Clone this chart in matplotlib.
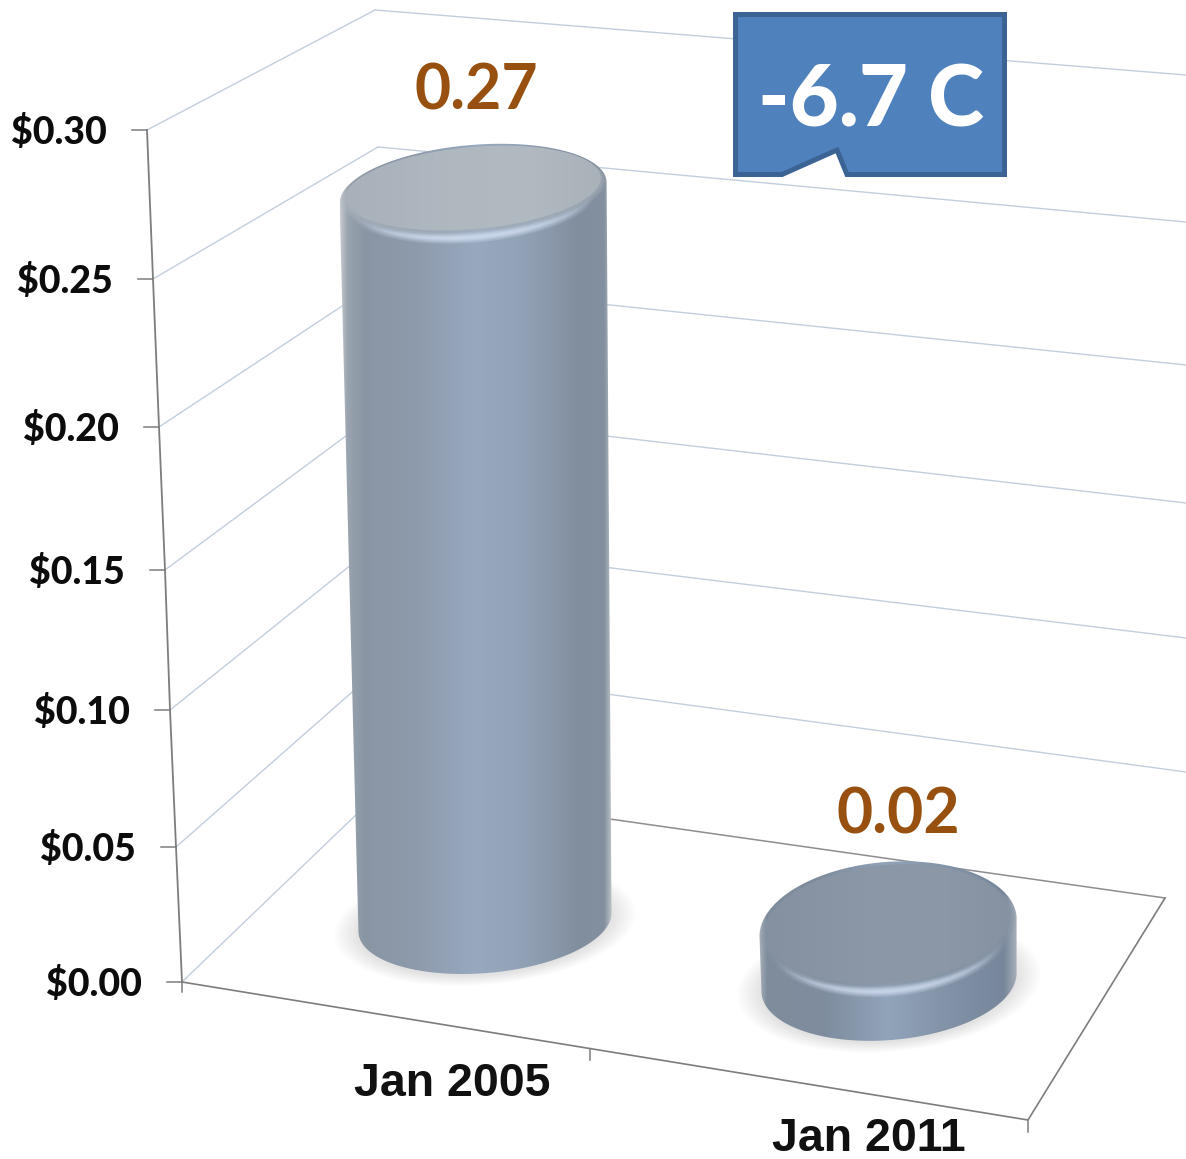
import numpy as np
import matplotlib
matplotlib.use("Agg")
import matplotlib.pyplot as plt
from matplotlib.collections import LineCollection
from matplotlib.colors import LinearSegmentedColormap, to_rgb
from matplotlib.patches import PathPatch, Polygon
from matplotlib.path import Path

W, H = 1186, 1159

# data
categories = ["Jan 2005", "Jan 2011"]
prices = [0.27, 0.02]
price_labels = ["0.27", "0.02"]
axis_values = [0.00, 0.05, 0.10, 0.15, 0.20, 0.25, 0.30]
axis_labels = ["$0.00", "$0.05", "$0.10", "$0.15", "$0.20", "$0.25", "$0.30"]
callout = "-6.7 C"

# projection of the fake 3d box, in pixels per axis value
AXIS_Y = [982, 847, 710, 570, 427, 279, 130]
AXIS_X = [182, 176, 170, 165, 159, 153, 147]
CORNER_X = [385, 384, 382, 381, 380, 378, 375]
CORNER_Y = [787, 664, 540, 410, 281, 147, 10]
RIGHT_Y = [901, 772, 638, 503, 365, 222, 75]
PX_PER_DOLLAR = 2700
LEAN_PER_DOLLAR = -44

GRID = "#c3cedc"
AXIS = "#7d7d7d"
BROWN = "#97500f"

# base centre, base radii, top radii, body colours, top colours
BARS = [
    {"base": (485, 922), "r0": (127, 51), "r1": (134, 48), "surf": (128, 41), "surf_dy": -5,
     "body": [(0, "#c6cad0"), (0.025, "#9aa4af"), (0.09, "#8a95a4"), (0.28, "#8e9bac"),
              (0.5, "#98a9bf"), (0.68, "#91a1b5"), (0.88, "#818e9e"), (0.97, "#84909f"),
              (1, "#c2c7cd")],
     "top": [(0, "#a8b0ba"), (0.4, "#afb7bf"), (0.7, "#b2bac1"), (1, "#a9b1b9")]},
    {"base": (889, 982), "r0": (128, 58), "r1": (129, 66), "surf": (123, 59), "surf_dy": -4,
     "body": [(0, "#a9b1bb"), (0.03, "#7f8c9c"), (0.25, "#7e8c9e"), (0.5, "#92a4ba"),
              (0.7, "#8495a9"), (0.95, "#77869a"), (1, "#a6aeb8")],
     "top": [(0, "#8591a1"), (0.4, "#8b97a6"), (0.7, "#8c98a7"), (1, "#8692a2")]},
]
LABEL_POS = [(476, 91), (898, 815)]
CATEGORY_POS = [(452, 1084), (869, 1139)]
TILT = np.radians(-5)


def ellipse_points(cx, cy, rx, ry, t):
    x = rx * np.cos(t) * np.cos(TILT) - ry * np.sin(t) * np.sin(TILT)
    y = rx * np.cos(t) * np.sin(TILT) + ry * np.sin(t) * np.cos(TILT)
    return np.column_stack([cx + x, cy + y])


def fill_gradient(ax, points, colours, zorder):
    path = Path(np.vstack([points, points[0]]), closed=True)
    patch = PathPatch(path, facecolor="none", edgecolor="none", transform=ax.transData)
    ax.add_patch(patch)
    cmap = LinearSegmentedColormap.from_list("g", colours)
    x0, x1 = points[:, 0].min(), points[:, 0].max()
    y0, y1 = points[:, 1].min(), points[:, 1].max()
    im = ax.imshow(np.linspace(0, 1, 256)[None, :], cmap=cmap, extent=(x0, x1, y1, y0),
                   aspect="auto", zorder=zorder, interpolation="bilinear")
    im.set_clip_path(patch)


def draw_shadow(ax, cx, cy, rx, ry):
    t = np.linspace(0, 2 * np.pi, 120)
    for grow in np.linspace(24, 0, 10):
        pts = ellipse_points(cx, cy + 2, rx + grow, ry + grow * 0.4, t)
        ax.add_patch(Polygon(pts, closed=True, facecolor="#a5a5a5", edgecolor="none",
                             alpha=0.03, zorder=2))


def draw_rim(ax, cx, cy, rx, ry, colour, peak):
    # front edge of the top, brightest in the middle
    t = np.linspace(np.radians(10), np.radians(170), 90)
    pts = ellipse_points(cx, cy, rx, ry, t)
    segs = np.stack([pts[:-1], pts[1:]], axis=1)
    fade = np.sin((t[:-1] - t[0]) / (t[-1] - t[0]) * np.pi) ** 2
    for width, a in [(11, 0.14), (7, 0.22), (3, 0.35)]:
        rgba = [(*to_rgb(colour), a * peak * f) for f in fade]
        ax.add_collection(LineCollection(segs, colors=rgba, linewidths=width * 0.72,
                                         capstyle="round", zorder=5))


plt.rcParams["font.family"] = ["Lato", "DejaVu Sans"]

fig = plt.figure(figsize=(W / 100, H / 100), dpi=100)
ax = fig.add_axes([0, 0, 1, 1])

# walls
for i in range(len(axis_values)):
    if i > 0:
        ax.plot([AXIS_X[i], CORNER_X[i]], [AXIS_Y[i], CORNER_Y[i]], color=GRID, lw=1.0, zorder=1)
        ax.plot([CORNER_X[i], W], [CORNER_Y[i], RIGHT_Y[i]], color=GRID, lw=1.0, zorder=1)
    ax.plot([AXIS_X[i] - 15, AXIS_X[i]], [AXIS_Y[i], AXIS_Y[i]], color=AXIS, lw=1.1, zorder=1)
    ax.text(AXIS_X[i] - 40, AXIS_Y[i] + 2, axis_labels[i], ha="right", va="center",
            fontsize=27, fontweight="black", color="#0c0c0c")

# floor
ax.plot([AXIS_X[0], CORNER_X[0]], [AXIS_Y[0], CORNER_Y[0]], color=GRID, lw=1.0, zorder=1)
floor_x = [CORNER_X[0], 1165, 1028, AXIS_X[0]]
floor_y = [CORNER_Y[0], 898, 1120, AXIS_Y[0]]
ax.plot(floor_x[:2], floor_y[:2], color="#8d8d92", lw=1.1, zorder=1)
ax.plot(floor_x[1:], floor_y[1:], color=AXIS, lw=1.2, zorder=1)
ax.plot(AXIS_X, AXIS_Y, color=AXIS, lw=1.3, zorder=1)
ax.plot([182, 182], [982, 992], color=AXIS, lw=1.1, zorder=1)
ax.plot([590, 590], [1049, 1060], color=AXIS, lw=1.1, zorder=1)
ax.plot([1028, 1028], [1120, 1132], color=AXIS, lw=1.1, zorder=1)

# cylinders
for i, bar in enumerate(BARS):
    bx, by = bar["base"]
    tx = bx + LEAN_PER_DOLLAR * prices[i]
    ty = by - PX_PER_DOLLAR * prices[i]
    draw_shadow(ax, bx, by, *bar["r0"])
    back = np.linspace(np.pi, 2 * np.pi, 80)
    front = np.linspace(0, np.pi, 80)
    body = np.vstack([ellipse_points(tx, ty, *bar["r1"], back),
                      ellipse_points(bx, by, *bar["r0"], front)])
    fill_gradient(ax, body, bar["body"], 3)
    sx, sy = bar["surf"]
    draw_rim(ax, tx, ty + bar["surf_dy"] + 3, sx, sy + 5, "#d4e0f4", 1.0 if i == 0 else 0.85)
    # soft bevel round the flat top, pushed down so it stays on the body
    edge = bar["top"][1][1]
    around = np.linspace(0, 2 * np.pi, 160)
    for grow in [5, 4, 3, 2, 1]:
        ring = ellipse_points(tx, ty + bar["surf_dy"] + grow * 0.8, sx + grow, sy, around)
        ax.add_patch(Polygon(ring, closed=True, facecolor=edge, edgecolor="none",
                             alpha=0.16, zorder=5.5))
    top = ellipse_points(tx, ty + bar["surf_dy"], sx, sy, around)
    fill_gradient(ax, top, bar["top"], 6)
    ax.text(*LABEL_POS[i], price_labels[i], ha="center", va="center", fontsize=45,
            fontweight="bold", color=BROWN, zorder=8)
    ax.text(*CATEGORY_POS[i], categories[i], ha="center", va="center", fontsize=33.5,
            fontweight="bold", family=["Liberation Sans"], color="#111111", zorder=8)

# callout box
box = [(735.5, 14.5), (1004.5, 14.5), (1004.5, 174.5), (847, 174.5), (837, 150),
       (782, 174.5), (735.5, 174.5)]
ax.add_patch(Polygon(box, closed=True, facecolor="#4f81bd", edgecolor="#3b6495",
                     linewidth=3.6, joinstyle="miter", zorder=7))
ax.text(871, 102, callout, ha="center", va="center", fontsize=61, fontweight="black",
        color="white", zorder=8)

ax.set_xlim(0, W)
ax.set_ylim(H, 0)
ax.axis("off")
fig.savefig("out.png", dpi=100)
